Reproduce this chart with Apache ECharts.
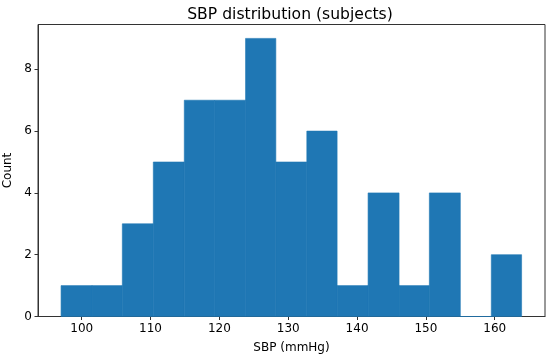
<!DOCTYPE html>
<html>
<head>
<meta charset="utf-8">
<script src="https://cdn.jsdelivr.net/npm/echarts@6/dist/echarts.min.js"></script>
<style>html,body{margin:0;padding:0;background:#fff}#c{width:550px;height:358px}</style>
</head>
<body>
<div id="c"></div>
<script>
const binEdges = [97.0, 101.5, 105.9, 110.4, 114.9, 119.3, 123.8, 128.2, 132.7, 137.1, 141.6, 146.1, 150.5, 155.0, 159.5, 163.9];
const counts = [1, 1, 3, 5, 7, 7, 9, 5, 6, 1, 4, 1, 4, 0, 2];
const xTicks = [100, 110, 120, 130, 140, 150, 160];
const yTicks = [0, 2, 4, 6, 8];

const data = counts.map((c, i) => [binEdges[i], binEdges[i + 1], c]);
const font = 'DejaVu Sans';
const chart = echarts.init(document.getElementById('c'), null, {renderer: 'canvas'});
chart.setOption({
  animation: false,
  title: {
    text: 'SBP distribution (subjects)',
    left: 285, top: 2, textAlign: 'center',
    textStyle: {fontFamily: font, fontSize: 15.6, fontWeight: 'normal', color: '#000'}
  },
  grid: {left: 38, right: 5, top: 24.5, bottom: 41.5, containLabel: false, outerBoundsMode: 'none',
         show: true, borderColor: '#333', borderWidth: 1, backgroundColor: 'transparent'},
  xAxis: {
    type: 'value', min: 93.65, max: 167.3,
    name: 'SBP (mmHg)', nameLocation: 'middle', nameGap: 25,
    nameTextStyle: {fontFamily: font, fontSize: 12, color: '#000'},
    axisLine: {show: true, onZero: false, lineStyle: {color: '#333', width: 1}},
    axisTick: {show: true, length: 3.5, customValues: xTicks, lineStyle: {color: '#333'}},
    axisLabel: {customValues: xTicks, fontFamily: font, fontSize: 12, color: '#000', margin: 6},
    splitLine: {show: false}
  },
  yAxis: {
    type: 'value', min: 0, max: 9.45,
    name: 'Count', nameLocation: 'middle', nameGap: 24, nameRotate: 90,
    nameTextStyle: {fontFamily: font, fontSize: 12, color: '#000'},
    axisLine: {show: true, lineStyle: {color: '#333', width: 1}},
    axisTick: {show: true, length: 3.5, customValues: yTicks, lineStyle: {color: '#333'}},
    axisLabel: {customValues: yTicks, fontFamily: font, fontSize: 12, color: '#000', margin: 6},
    splitLine: {show: false}
  },
  series: [{
    type: 'custom',
    data: data,
    encode: {x: [0, 1], y: 2},
    renderItem: function (params, api) {
      const p0 = api.coord([api.value(0), 0]);
      const p1 = api.coord([api.value(1), api.value(2)]);
      return {
        type: 'rect',
        shape: {x: p0[0], y: p1[1], width: p1[0] - p0[0], height: p0[1] - p1[1]},
        style: {fill: '#1f77b4', stroke: '#1f77b4', lineWidth: 0.6}
      };
    }
  }]
});
</script>
</body>
</html>
